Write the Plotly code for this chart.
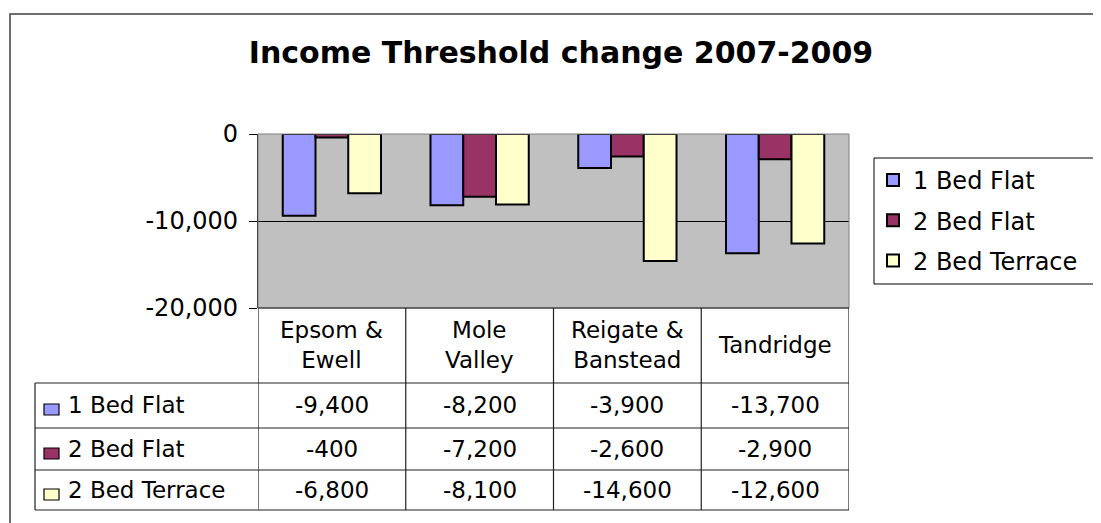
import plotly.graph_objects as go

# ---------------- data ----------------
categories = ["Epsom & Ewell", "Mole Valley", "Reigate & Banstead", "Tandridge"]
header_labels = ["Epsom &<br>Ewell", "Mole<br>Valley", "Reigate &<br>Banstead", "Tandridge"]
series_names = ["1 Bed Flat", "2 Bed Flat", "2 Bed Terrace"]
one_bed_flat = [-9400, -8200, -3900, -13700]
two_bed_flat = [-400, -7200, -2600, -2900]
two_bed_terrace = [-6800, -8100, -14600, -12600]
y_ticks = [0, -10000, -20000]
title_text = "Income Threshold change 2007-2009"

series_values = [one_bed_flat, two_bed_flat, two_bed_terrace]
series_colors = ["#9999FF", "#993366", "#FFFFCC"]

# ---------------- geometry helpers ----------------
W, H = 1101, 523
OFF = 8  # page body margin compensation
FONT = "DejaVu Sans"


def px(x):
    return (x - OFF) / W


def py(y):
    return 1 - (y - OFF) / H


PLOT_L, PLOT_R, PLOT_T, PLOT_B = 258, 849, 134, 308
TABLE_L = 35
ROW_LINES = [383, 428, 470, 510]
ROW_CENTERS = [405, 449, 490]
HEADER_CENTER = 345

fig = go.Figure()
for i, (name, vals, col) in enumerate(zip(series_names, series_values, series_colors)):
    fig.add_trace(go.Bar(
        x=categories, y=vals, name=name, legendgroup=f"g{i}",
        marker=dict(color=col, line=dict(color="black", width=2)),
        hoverinfo="x+y+name",
    ))

shapes = []
annotations = []

# outer chart border
shapes.append(dict(type="rect", xref="paper", yref="paper",
                   x0=px(10), x1=px(1130), y0=py(14), y1=py(560),
                   line=dict(color="#404040", width=1.5), fillcolor="rgba(0,0,0,0)", layer="below"))
# legend frame (runs off the right edge, as in the original)
shapes.append(dict(type="rect", xref="paper", yref="paper",
                   x0=px(874), x1=px(1140), y0=py(284), y1=py(158),
                   line=dict(color="black", width=1), fillcolor="white", layer="below"))
# plot-area border (right/top gray)
shapes.append(dict(type="rect", xref="paper", yref="paper",
                   x0=px(PLOT_L), x1=px(PLOT_R), y0=py(PLOT_B), y1=py(PLOT_T),
                   line=dict(color="#808080", width=1), fillcolor="rgba(0,0,0,0)"))

LINE = dict(color="#202020", width=1.2)
# table: top line (bottom of plot area)
shapes.append(dict(type="line", xref="paper", yref="paper",
                   x0=px(PLOT_L), x1=px(PLOT_R), y0=py(PLOT_B), y1=py(PLOT_B), line=LINE))
# horizontal row lines
for yl in ROW_LINES:
    shapes.append(dict(type="line", xref="paper", yref="paper",
                       x0=px(TABLE_L), x1=px(PLOT_R), y0=py(yl), y1=py(yl), line=LINE))
# vertical column separators at category boundaries
for k in range(len(categories) + 1):
    shapes.append(dict(type="line", xref="x", yref="paper",
                       x0=k - 0.5, x1=k - 0.5, y0=py(PLOT_B), y1=py(ROW_LINES[-1]), line=LINE))
# left border of series-label column
shapes.append(dict(type="line", xref="paper", yref="paper",
                   x0=px(TABLE_L), x1=px(TABLE_L), y0=py(ROW_LINES[0]), y1=py(ROW_LINES[-1]), line=LINE))

# header row labels
for cat, lab in zip(categories, header_labels):
    annotations.append(dict(x=cat, xref="x", y=py(HEADER_CENTER), yref="paper",
                            text=lab, showarrow=False, xanchor="center", yanchor="middle",
                            font=dict(family=FONT, size=23, color="black")))

# rows: key squares, names, values
for r, (name, vals, col) in enumerate(zip(series_names, series_values, series_colors)):
    yc = ROW_CENTERS[r]
    shapes.append(dict(type="rect", xref="paper", yref="paper",
                       x0=px(44), x1=px(59), y0=py(yc + 10), y1=py(yc - 1),
                       fillcolor=col, line=dict(color="black", width=1.2)))
    annotations.append(dict(x=px(66), xref="paper", y=py(yc), yref="paper",
                            text=name, showarrow=False, xanchor="left", yanchor="middle",
                            font=dict(family=FONT, size=23, color="black")))
    for cat, v in zip(categories, vals):
        annotations.append(dict(x=cat, xref="x", y=py(yc), yref="paper",
                                text=f"{v:,}", showarrow=False, xanchor="center", yanchor="middle",
                                font=dict(family=FONT, size=23, color="black")))

fig.update_layout(
    width=W, height=H,
    margin=dict(l=0, r=0, t=0, b=0, autoexpand=False),
    paper_bgcolor="white", plot_bgcolor="#C0C0C0",
    barmode="group", bargap=0.335, bargroupgap=0,
    title=dict(text=f"<b>{title_text}</b>", x=px(561), xanchor="center",
               y=py(52), yanchor="middle",
               font=dict(family=FONT, size=30, color="black")),
    xaxis=dict(domain=[px(PLOT_L), px(PLOT_R)], range=[-0.5, len(categories) - 0.5],
               showticklabels=False, ticks="", showgrid=False, zeroline=False, showline=False),
    yaxis=dict(domain=[py(PLOT_B), py(PLOT_T)], range=[-20000, 0],
               tickvals=y_ticks, ticktext=[f"{v:,}" for v in y_ticks],
               ticks="outside", ticklen=8, tickcolor="black", tickwidth=1,
               ticklabelstandoff=6,
               showline=True, linecolor="black", linewidth=1.2,
               showgrid=True, gridcolor="black", gridwidth=1, zeroline=False,
               tickfont=dict(family=FONT, size=24, color="black")),
    legend=dict(x=px(873), y=py(158), xanchor="left", yanchor="top",
                borderwidth=0, bgcolor="rgba(0,0,0,0)",
                font=dict(family=FONT, size=24, color="black"),
                traceorder="grouped", tracegroupgap=6),
    shapes=shapes, annotations=annotations,
    showlegend=True,
)

fig.write_html("out.html")
